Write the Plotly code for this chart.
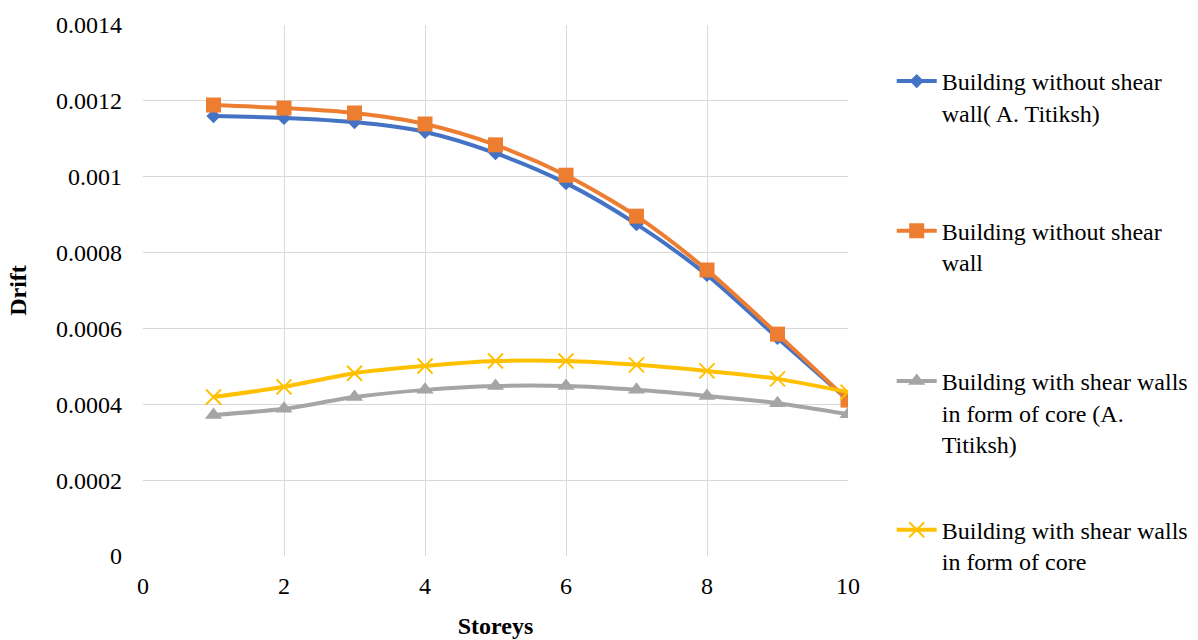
import plotly.graph_objects as go

# Storey numbers (x) and inter-storey drift for each building model
storeys = [1, 2, 3, 4, 5, 6, 7, 8, 9, 10]

drift_no_wall_titiksh = [0.001160, 0.001155, 0.001144, 0.001118, 0.001062,
                         0.000983, 0.000875, 0.000741, 0.000575, 0.000411]
drift_no_wall = [0.001189, 0.001181, 0.001168, 0.001139, 0.001084,
                 0.001004, 0.000896, 0.000754, 0.000585, 0.000411]
drift_core_titiksh = [0.000372, 0.000388, 0.000419, 0.000438, 0.000448,
                      0.000448, 0.000438, 0.000422, 0.000403, 0.000374]
drift_core = [0.000419, 0.000446, 0.000482, 0.000501, 0.000514,
              0.000514, 0.000504, 0.000488, 0.000467, 0.000432]

series_names = [
    "Building without shear<br>wall( A. Titiksh)",
    "Building without shear<br>wall",
    "Building with shear walls<br>in form of core (A.<br>Titiksh)",
    "Building with shear walls<br>in form of core",
]

x_tick_vals = [0, 2, 4, 6, 8, 10]
x_tick_text = ["0", "2", "4", "6", "8", "10"]
y_tick_vals = [0, 0.0002, 0.0004, 0.0006, 0.0008, 0.001, 0.0012, 0.0014]
y_tick_text = ["0", "0.0002", "0.0004", "0.0006", "0.0008", "0.001", "0.0012", "0.0014"]

FONT = "Liberation Serif"
FS = 24

styles = [
    dict(color="#4472C4", marker=dict(symbol="diamond", size=11, color="#4472C4")),
    dict(color="#ED7D31", marker=dict(symbol="square", size=15, color="#ED7D31")),
    dict(color="#A5A5A5", marker=dict(symbol="triangle-up", size=15, color="#A5A5A5")),
    dict(color="#FFC000", marker=dict(symbol="x-thin", size=15, color="#FFC000",
                                      line=dict(color="#FFC000", width=2))),
]

all_series = [drift_no_wall_titiksh, drift_no_wall, drift_core_titiksh, drift_core]
legend_ids = ["legend", "legend2", "legend3", "legend4"]
legend_tops = [0.936, 0.654, 0.371, 0.091]

fig = go.Figure()
for vals, name, st, lid in zip(all_series, series_names, styles, legend_ids):
    fig.add_trace(go.Scatter(
        x=storeys, y=vals, name=name, mode="lines+markers",
        line=dict(color=st["color"], width=4, shape="spline", smoothing=0.8),
        marker=st["marker"], legend=lid, showlegend=True,
    ))

axis_common = dict(
    showgrid=True, gridcolor="#D9D9D9", gridwidth=1.3,
    zeroline=False, showline=False, ticks="",
    tickfont=dict(family=FONT, size=FS, color="#000000"),
)

legend_layout = {}
for lid, ytop in zip(legend_ids, legend_tops):
    legend_layout[lid] = dict(
        x=1.062, xanchor="left", y=ytop, yanchor="top",
        font=dict(family=FONT, size=FS, color="#000000"),
        bgcolor="rgba(0,0,0,0)", valign="top", itemwidth=40,
    )

fig.update_layout(
    width=1198, height=640, showlegend=True,
    margin=dict(l=143, r=350, t=25, b=84, autoexpand=False),
    paper_bgcolor="#FFFFFF", plot_bgcolor="#FFFFFF",
    font=dict(family=FONT, size=FS, color="#000000"),
    xaxis=dict(
        range=[0, 10], tickvals=x_tick_vals, ticktext=x_tick_text,
        ticklabelstandoff=13,
        title=dict(text="<b>Storeys</b>", font=dict(family=FONT, size=FS), standoff=19),
        **axis_common,
    ),
    yaxis=dict(
        range=[0, 0.0014], tickvals=y_tick_vals, ticktext=y_tick_text,
        ticklabelstandoff=20,
        title=dict(text="<b>Drift</b>", font=dict(family=FONT, size=FS), standoff=22),
        **axis_common,
    ),
    **legend_layout,
)

fig.write_html("out.html")
